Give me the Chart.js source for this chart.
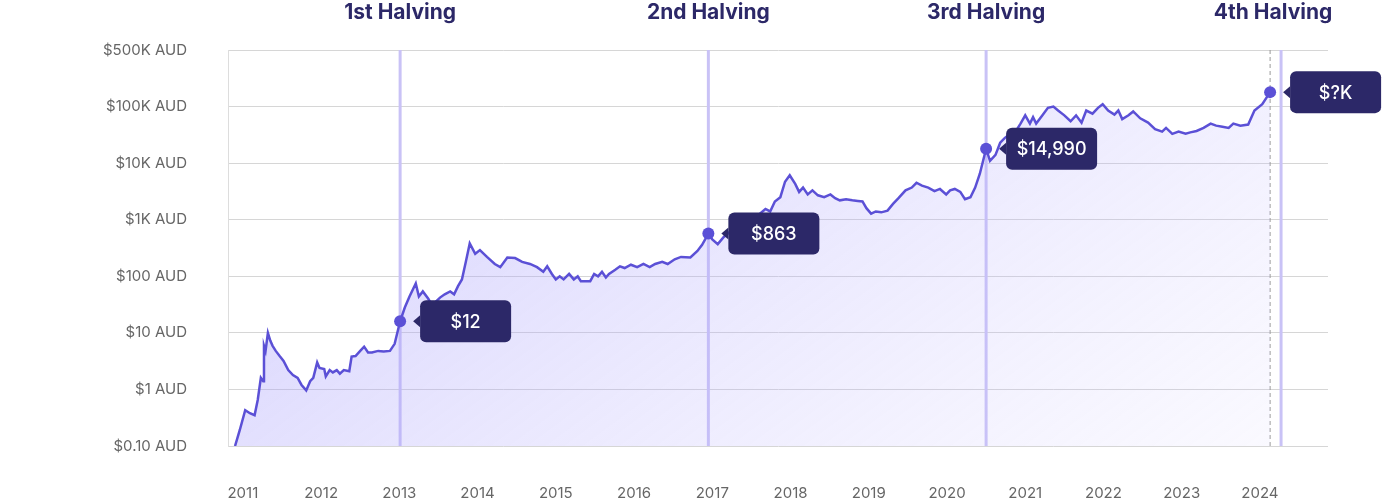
<!DOCTYPE html>
<html><head><meta charset="utf-8">
<script src="https://cdn.jsdelivr.net/npm/chart.js@4"></script>
<style>html,body{margin:0;padding:0;background:#fff}#w{width:1395px;height:500px}</style>
</head><body><div id="w"><canvas id="c"></canvas></div>
<script>
const years=[2010.90,2010.96,2011.03,2011.09,2011.15,2011.19,2011.23,2011.26,2011.27,2011.29,2011.32,2011.35,2011.38,2011.42,2011.47,2011.52,2011.58,2011.64,2011.70,2011.75,2011.81,2011.86,2011.90,2011.95,2011.98,2012.04,2012.06,2012.11,2012.15,2012.20,2012.24,2012.29,2012.36,2012.39,2012.44,2012.50,2012.55,2012.60,2012.65,2012.73,2012.80,2012.88,2012.94,2013.01,2013.07,2013.13,2013.21,2013.25,2013.30,2013.37,2013.42,2013.47,2013.52,2013.58,2013.65,2013.70,2013.75,2013.80,2013.85,2013.90,2013.97,2014.03,2014.12,2014.22,2014.29,2014.38,2014.48,2014.57,2014.67,2014.76,2014.84,2014.89,2014.95,2015.00,2015.05,2015.10,2015.17,2015.23,2015.28,2015.32,2015.37,2015.44,2015.49,2015.54,2015.59,2015.64,2015.68,2015.76,2015.82,2015.88,2015.96,2016.04,2016.12,2016.20,2016.27,2016.36,2016.43,2016.52,2016.60,2016.72,2016.81,2016.87,2016.95,2017.00,2017.07,2017.15,2017.23,2017.36,2017.46,2017.55,2017.61,2017.68,2017.74,2017.80,2017.87,2017.93,2017.99,2018.06,2018.11,2018.16,2018.22,2018.28,2018.35,2018.43,2018.51,2018.57,2018.63,2018.71,2018.79,2018.86,2018.92,2018.97,2019.03,2019.09,2019.16,2019.24,2019.31,2019.38,2019.47,2019.55,2019.61,2019.68,2019.76,2019.84,2019.91,2019.99,2020.04,2020.10,2020.17,2020.23,2020.30,2020.36,2020.42,2020.50,2020.55,2020.62,2020.68,2020.74,2020.81,2020.87,2020.94,2021.00,2021.06,2021.10,2021.14,2021.22,2021.29,2021.36,2021.42,2021.50,2021.58,2021.65,2021.72,2021.78,2021.86,2021.93,2021.99,2022.06,2022.14,2022.19,2022.24,2022.32,2022.38,2022.47,2022.57,2022.66,2022.75,2022.80,2022.88,2022.96,2023.05,2023.11,2023.19,2023.28,2023.37,2023.44,2023.52,2023.60,2023.66,2023.75,2023.85,2023.93,2024.03,2024.13];
const prices=[0.1,0.19,0.43,0.38,0.35,0.65,1.6,1.4,5.9,4.8,10,7.3,5.9,4.8,3.9,3.2,2.2,1.8,1.6,1.2,0.96,1.4,1.6,3,2.4,2.3,1.7,2.2,2.0,2.2,1.9,2.2,2.1,3.8,3.9,4.8,5.7,4.5,4.5,4.8,4.7,4.8,6.4,16,28,44,75,44,54,40,30,36,42,48,54,48,67,88,180,380,250,290,220,165,145,215,210,180,165,145,120,150,110,88,100,88,110,88,100,82,82,82,110,100,120,95,110,130,150,140,160,145,165,145,165,180,165,200,220,215,280,360,570,450,370,500,620,780,800,1000,1280,1550,1400,2100,2500,4700,6100,4300,3100,3700,2800,3300,2700,2500,2800,2400,2200,2300,2200,2150,2100,1600,1280,1400,1350,1450,1900,2400,3300,3700,4500,4000,3700,3200,3500,2800,3300,3500,3100,2300,2500,3700,6500,18000,11000,14000,23000,28000,33000,35000,50000,70000,50000,65000,50000,70000,95000,100000,85000,70000,55000,70000,52000,85000,75000,95000,110000,85000,72000,85000,60000,70000,82000,62000,52000,40000,36000,42000,33000,36000,33000,35000,37000,42000,50000,46000,44000,42000,50000,46000,48000,85000,110000,180000];
const yTickValues=[0.1,1,10,100,1000,10000,100000,1000000];
const yTickLabels=["$0.10 AUD","$1 AUD","$10 AUD","$100 AUD","$1K AUD","$10K AUD","$100K AUD","$500K AUD"];
const halvingNames=["1st Halving","2nd Halving","3rd Halving","4th Halving"];
const halvingYears=[2013.01,2016.95,2020.50,2024.27];
const calloutYears=[2013.01,2016.95,2020.50,2024.13];
const calloutValues=[16,570,18000,180000];
const calloutLabels=["$12","$863","$14,990","$?K"];
const todayYear=2024.13;

const navy="#2c2868", purple="#5b50d6";
const overlay={id:'ov',
 beforeDatasetsDraw(ch){const {ctx,chartArea:a,scales:{x}}=ch;ctx.save();
  ctx.strokeStyle="#c9c2f6";ctx.lineWidth=3;
  halvingYears.forEach(h=>{const px=x.getPixelForValue(h);ctx.beginPath();ctx.moveTo(px,a.top);ctx.lineTo(px,a.bottom);ctx.stroke();});
  ctx.strokeStyle="#999";ctx.lineWidth=1;ctx.setLineDash([4,3]);
  const tx=x.getPixelForValue(todayYear);ctx.beginPath();ctx.moveTo(tx,a.top);ctx.lineTo(tx,a.bottom);ctx.stroke();
  ctx.restore();},
 afterDatasetsDraw(ch){const {ctx,scales:{x,y}}=ch;ctx.save();
  ctx.font="bold 21px Inter, 'Open Sans', sans-serif";ctx.fillStyle=navy;ctx.textAlign="center";ctx.textBaseline="middle";
  halvingNames.forEach((n,i)=>{let px=x.getPixelForValue(halvingYears[i]);if(i==3)px-=8;ctx.fillText(n,px,13);});
  calloutYears.forEach((cy,i)=>{const px=x.getPixelForValue(cy),py=y.getPixelForValue(calloutValues[i]);
   ctx.fillStyle=purple;ctx.beginPath();ctx.arc(px,py,6,0,Math.PI*2);ctx.fill();
   const bx=px+20,bw=91,bh=42,by=py-21;
   ctx.fillStyle=navy;ctx.beginPath();ctx.roundRect(bx,by,bw,bh,6);ctx.fill();
   ctx.beginPath();ctx.moveTo(bx,py-6);ctx.lineTo(bx-7,py);ctx.lineTo(bx,py+6);ctx.fill();
   ctx.fillStyle="#fff";ctx.font="500 18px Inter, 'Open Sans', sans-serif";ctx.textAlign="center";
   ctx.fillText(calloutLabels[i],bx+bw/2,py+1);});
  ctx.restore();}};

new Chart(document.getElementById('c'),{type:'line',
 data:{datasets:[{data:years.map((v,i)=>({x:v,y:prices[i]})),borderColor:purple,borderWidth:2.5,pointRadius:0,tension:0,
  fill:'start',backgroundColor:(c)=>{const a=c.chart.chartArea;if(!a)return 'rgba(0,0,0,0)';
   const g=c.chart.ctx.createLinearGradient(a.left,a.top,a.left+a.width*0.6,a.bottom+500);
   g.addColorStop(0,'rgba(150,140,250,0.45)');g.addColorStop(1,'rgba(220,215,255,0.05)');return g;}}]},
 options:{responsive:true,maintainAspectRatio:false,animation:false,
  layout:{padding:{top:48,right:67,left:0,bottom:0}},
  plugins:{legend:{display:false},tooltip:{enabled:false}},
  scales:{
   x:{type:'linear',min:2010.81,max:2024.87,border:{display:false},grid:{display:false},
    afterFit(s){s.height=54;},
    afterBuildTicks(s){s.ticks=[];for(let yy=2011;yy<=2024;yy++)s.ticks.push({value:yy});},
    ticks:{padding:30,color:'#666',font:{size:15,family:"Inter, 'Open Sans', sans-serif"},callback:v=>String(v)}},
   y:{type:'logarithmic',min:0.1,max:1000000,border:{display:true,color:'#ddd'},
    grid:{color:'#d6d6d6',drawTicks:false},
    afterFit(s){s.width=228;},
    afterBuildTicks(s){s.ticks=yTickValues.map(v=>({value:v}));},
    ticks:{padding:41,color:'#666',font:{size:15,family:"Inter, 'Open Sans', sans-serif"},
     callback:(v)=>{const i=yTickValues.indexOf(v);return i>=0?yTickLabels[i]:'';}}}}},
 plugins:[overlay]});
</script></body></html>
